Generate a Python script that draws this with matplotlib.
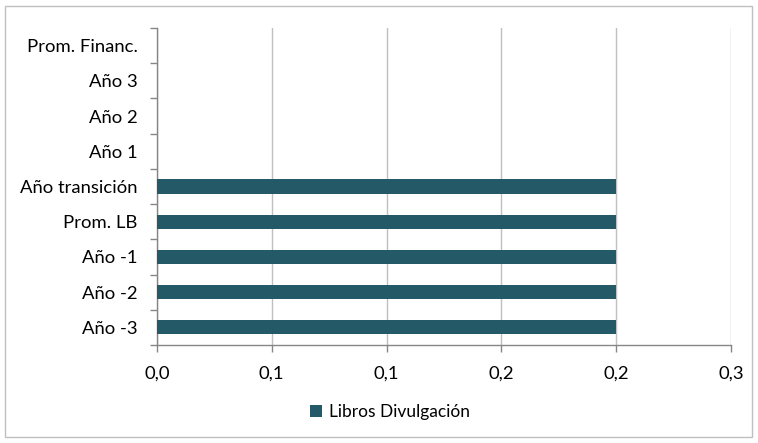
import numpy as np
import matplotlib.pyplot as plt
from matplotlib.patches import Rectangle

categorias = ['Año -3', 'Año -2', 'Año -1', 'Prom. LB', 'Año transición',
              'Año 1', 'Año 2', 'Año 3', 'Prom. Financ.']
valores = [0.2, 0.2, 0.2, 0.2, 0.2, 0, 0, 0, 0]
xticks = [0.0, 0.05, 0.10, 0.15, 0.20, 0.25]
xtick_labels = ['0,0', '0,1', '0,1', '0,2', '0,2', '0,3']
serie = 'Libros Divulgación'

plt.rcParams['font.family'] = ['Lato', 'DejaVu Sans']
fs = 13.3

fig = plt.figure(figsize=(7.58, 4.43), dpi=100)
ax = fig.add_axes([157/758, 1 - 345/443, (731 - 157)/758, (345 - 28)/443])

y = np.arange(len(categorias))
ax.barh(y, valores, height=0.4, color='#245A67', label=serie, zorder=3)

ax.set_xlim(0, 0.25)
ax.set_ylim(-0.5, len(categorias) - 0.5)
ax.set_xticks(xticks)
ax.set_xticklabels(xtick_labels, fontsize=fs)
ax.set_yticks(y)
ax.set_yticklabels(categorias, fontsize=fs)
ax.set_yticks(np.arange(-0.5, len(categorias)), minor=True)
ax.tick_params(axis='y', which='major', length=0, pad=14)
ax.tick_params(axis='y', which='minor', length=5, color='#868686', width=1)
ax.tick_params(axis='x', length=5, color='#868686', width=1, pad=10)
ax.grid(axis='x', color='#BFBFBF', linewidth=1, zorder=0)

for s in ['top', 'right']:
    ax.spines[s].set_visible(False)
for s in ['left', 'bottom']:
    ax.spines[s].set_color('#868686')
    ax.spines[s].set_linewidth(1)

fig.legend(loc='center', bbox_to_anchor=(390/758, 1 - 412/443), frameon=False,
           fontsize=12.5, handlelength=0.7, handleheight=0.7, handletextpad=0.4)

fig.patches.append(Rectangle((5/758, 6/443), 747/758, 431/443, transform=fig.transFigure,
                             fill=False, edgecolor='#BFBFBF', linewidth=1))

fig.savefig('out.png', dpi=100)
